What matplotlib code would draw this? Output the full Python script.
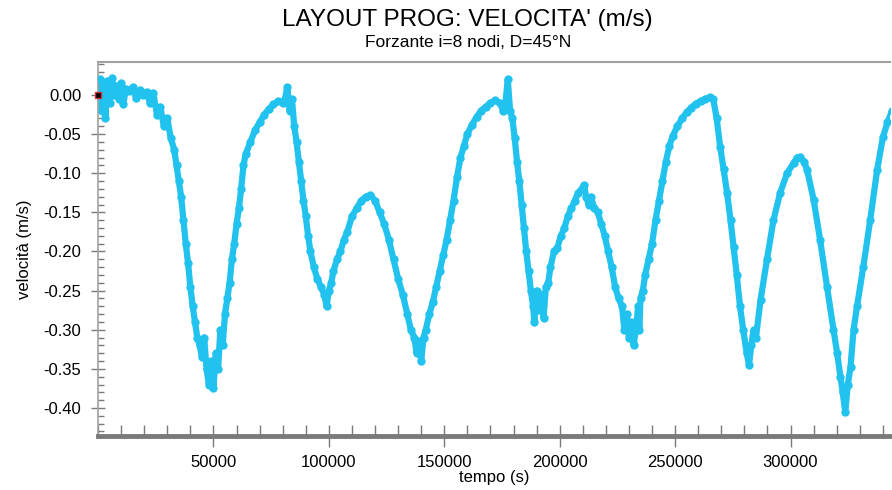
import matplotlib
matplotlib.use("Agg")
from matplotlib import pyplot as plt
from matplotlib.ticker import MultipleLocator, FormatStrFormatter

plt.rcParams['font.family'] = ['Liberation Sans', 'DejaVu Sans']

# velocity time series (tempo in s, velocita in m/s)
tempo = [
    0, 800, 1600, 2400, 3200, 4000, 5000, 6000, 7000, 8000, 9000, 10000,
    11000, 12000, 13500, 15000, 16500, 18000, 19500, 21000, 22500, 24000,
    25500, 27000, 28500, 30000,
    31500, 33000, 34000, 35000, 36000, 37000, 38000, 39000, 40000, 41000,
    42000, 43000, 44000, 45000, 46000, 47000, 48000, 49000, 50000, 51000,
    52000, 53000, 54000, 55000, 56000, 57000, 58000, 59000, 60000, 61000,
    62000, 63000, 64000, 66000, 68000, 70000, 72000, 74000, 76000, 78000,
    80000, 81000, 82000, 83000, 84000, 85000,
    86000, 87000, 88000, 89000, 90000, 91000, 92000, 93500, 95000, 96500,
    98000, 99000, 100000, 101000, 102000, 103500, 105000, 106500, 108000,
    110000, 112000, 114000, 116000, 118000, 120000, 122000, 124000, 126000,
    128000, 130000, 132000, 134000, 135500, 137000, 138000, 139000, 140000,
    141000, 142000, 143500, 145000, 146500, 148000, 149500, 151000, 152500,
    154000, 155500, 157000, 158500, 160000, 162000, 164000, 166000, 168000,
    170000, 172000, 174000, 175500, 176500, 177500, 178500, 179500,
    180500, 181500, 182500, 183500, 184500, 185500, 186500, 187500, 188500,
    189000, 190000, 191000, 192000, 193000, 194000, 195000, 196000, 197500,
    199000, 200500, 202000, 203500, 205000, 206500, 208000, 209500, 210500,
    211500, 212500, 213500, 215000, 216500, 218000, 219500, 221000, 222500,
    224000, 225500, 227000, 228000, 229000, 230000, 231000, 232000, 233000,
    234000, 234500, 235000, 236000, 237000, 238500, 240000, 241500, 243000,
    244500, 246000, 247500, 249000, 251000, 253000, 255000, 257000, 259000,
    261000, 263000, 265000, 266500,
    268000, 269500, 271000, 272500, 274000, 275300, 276700, 278100, 279500,
    281000, 282000, 283000, 284000, 285000, 287000, 289800, 292600, 295500,
    298500, 301300, 302800, 304300, 305800, 307200, 310000, 312800, 315800,
    318600, 320200, 321600, 322600, 323700, 324800, 326000, 327300, 328800,
    331500, 334500, 337500, 340000, 342000, 344000,
]
velocita = [
    0.0, 0.02, -0.02, 0.015, -0.03, 0.018, -0.01, 0.022, 0.0, 0.012, -0.005,
    0.015, -0.012, 0.008, 0.005, 0.01, -0.004, 0.006, 0.0, 0.004, -0.01,
    0.002, -0.025, -0.015, -0.04, -0.03,
    -0.055, -0.07, -0.09, -0.11, -0.13, -0.16, -0.19, -0.215, -0.245, -0.27,
    -0.29, -0.31, -0.32, -0.335, -0.31, -0.35, -0.37, -0.34, -0.375, -0.33,
    -0.35, -0.30, -0.32, -0.28, -0.26, -0.24, -0.21, -0.19, -0.165, -0.145,
    -0.12, -0.09, -0.075, -0.06, -0.045, -0.035, -0.025, -0.018, -0.012,
    -0.008, -0.01, -0.005, 0.01, -0.02, -0.005, -0.04,
    -0.06, -0.085, -0.11, -0.135, -0.155, -0.18, -0.2, -0.22, -0.235, -0.245,
    -0.255, -0.27, -0.25, -0.24, -0.225, -0.21, -0.2, -0.185, -0.175,
    -0.155, -0.145, -0.135, -0.13, -0.128, -0.135, -0.15, -0.165, -0.185,
    -0.21, -0.235, -0.255, -0.28, -0.3, -0.31, -0.33, -0.315, -0.34,
    -0.31, -0.3, -0.28, -0.265, -0.245, -0.225, -0.205, -0.185, -0.16,
    -0.135, -0.105, -0.08, -0.065, -0.05, -0.038, -0.028, -0.02, -0.015,
    -0.01, -0.007, -0.01, -0.02, -0.01, 0.02, -0.02, -0.03,
    -0.055, -0.085, -0.11, -0.14, -0.17, -0.2, -0.225, -0.25, -0.27,
    -0.29, -0.25, -0.275, -0.255, -0.285, -0.245, -0.24, -0.22, -0.2,
    -0.195, -0.18, -0.17, -0.155, -0.145, -0.135, -0.125, -0.12, -0.115,
    -0.13, -0.14, -0.13, -0.145, -0.15, -0.165, -0.18, -0.2, -0.22,
    -0.245, -0.26, -0.27, -0.3, -0.28, -0.31, -0.29, -0.32, -0.3,
    -0.27, -0.3, -0.26, -0.25, -0.23, -0.21, -0.19, -0.16, -0.135,
    -0.11, -0.085, -0.065, -0.052, -0.04, -0.03, -0.022, -0.016, -0.011,
    -0.008, -0.005, -0.003, -0.005,
    -0.03, -0.066, -0.095, -0.125, -0.16, -0.194, -0.23, -0.27, -0.30,
    -0.33, -0.345, -0.32, -0.30, -0.31, -0.262, -0.21, -0.16, -0.125,
    -0.10, -0.087, -0.08, -0.079, -0.085, -0.096, -0.134, -0.185, -0.245,
    -0.30, -0.33, -0.36, -0.38, -0.405, -0.37, -0.347, -0.30, -0.27,
    -0.22, -0.16, -0.096, -0.054, -0.035, -0.02,
]

xticks = [50000, 100000, 150000, 200000, 250000, 300000]
yticks = [0.0, -0.05, -0.10, -0.15, -0.20, -0.25, -0.30, -0.35, -0.40]

cyan = '#22c2ef'
grey = '#7a7a7a'

fig = plt.figure(figsize=(8.92, 4.90), dpi=100)
ax = fig.add_axes([0.1099, 0.1102, 0.8879, 0.7633])

# thick band + dots, like the original dense sampling
ax.plot(tempo, velocita, color=cyan, lw=4.5, solid_joinstyle='round', zorder=2)
ax.plot(tempo, velocita, ls='none', marker='o', ms=5, mfc=cyan, mec=cyan, zorder=3)
# little start marker on the axis
ax.plot([tempo[0]], [velocita[0]], marker='s', ms=4, mfc='black', mec='#d03030',
        mew=1, clip_on=False, zorder=5)

ax.set_xlim(0, 343100)
ax.set_ylim(-0.4358, 0.0422)

ax.set_xticks(xticks)
ax.set_yticks(yticks)
ax.xaxis.set_minor_locator(MultipleLocator(10000))
ax.yaxis.set_minor_locator(MultipleLocator(0.01))
ax.yaxis.set_major_formatter(FormatStrFormatter('%.2f'))

ax.tick_params(axis='y', which='major', direction='inout', length=10, width=1,
               color=grey, labelsize=12, pad=7)
ax.tick_params(axis='y', which='minor', direction='in', length=4, width=1, color=grey)
ax.tick_params(axis='x', which='major', direction='inout', length=16, width=1,
               color=grey, labelsize=12, pad=6)
ax.tick_params(axis='x', which='minor', direction='in', length=8, width=1, color=grey)

ax.spines['right'].set_visible(False)
ax.spines['top'].set_color('#a0a0a0')
ax.spines['top'].set_linewidth(1.5)
ax.spines['left'].set_color('#a0a0a0')
ax.spines['left'].set_linewidth(1.2)
ax.spines['bottom'].set_color(grey)
ax.spines['bottom'].set_linewidth(3.5)

ax.set_xlabel('tempo (s)', fontsize=12, labelpad=0)
ax.set_ylabel('velocità (m/s)', fontsize=12, labelpad=8)

fig.text(0.524, 0.959, "LAYOUT PROG: VELOCITA' (m/s)", ha='center', va='center',
         fontsize=17.5)
fig.text(0.525, 0.914, "Forzante i=8 nodi, D=45°N", ha='center', va='center',
         fontsize=12.5)

fig.savefig('out.png', dpi=100)
